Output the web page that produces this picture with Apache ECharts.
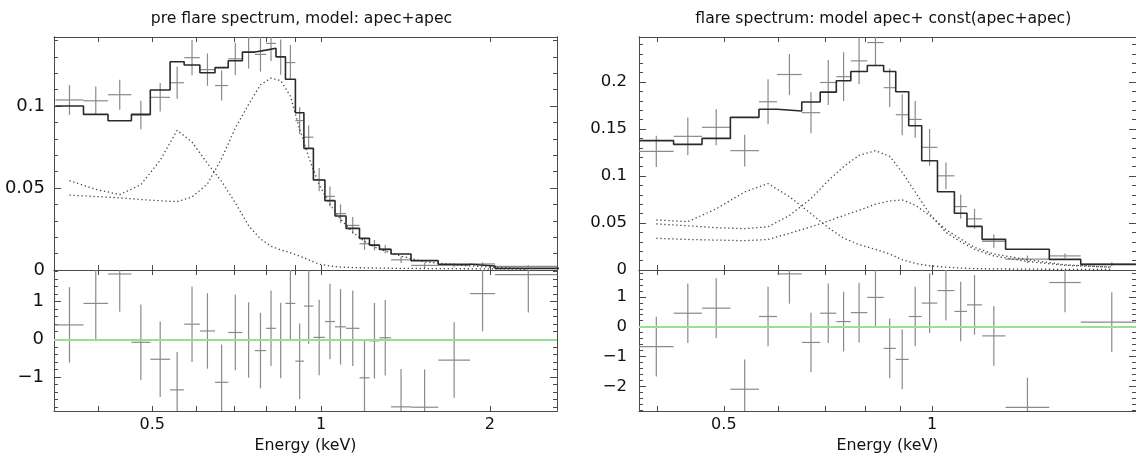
<!DOCTYPE html>
<html><head><meta charset="utf-8">
<script src="https://cdn.jsdelivr.net/npm/echarts@6/dist/echarts.min.js"></script>
<style>html,body{margin:0;padding:0;background:#fff}#c{width:1136px;height:457px}</style>
</head><body><div id="c"></div>
<script>
// ===== Left panel: pre flare spectrum (model apec+apec) =====
const preEdges = [0.336,0.377,0.417,0.459,0.496,0.538,0.570,0.608,0.647,0.683,0.724,0.762,0.798,0.831,0.864,0.900,0.932,0.969,1.016,1.059,1.108,1.171,1.220,1.271,1.333,1.447,1.618,1.844,2.043,2.685];
const preData  = [0.1037,0.1032,0.1069,0.0945,0.1053,0.1142,0.1295,0.1222,0.1125,0.1288,0.1327,0.1315,0.1382,0.1298,0.1265,0.0911,0.0810,0.0551,0.0449,0.0344,0.0272,0.0160,0.0151,0.0127,0.0062,0.0028,0.0028,0.0037,0.0022];
const preErr   = [0.0091,0.0087,0.0091,0.0087,0.0087,0.0097,0.0107,0.0098,0.0091,0.0098,0.0098,0.0105,0.0107,0.0107,0.0107,0.0081,0.0071,0.0071,0.0061,0.0056,0.0051,0.0036,0.0032,0.0025,0.0020,0.0016,0.0013,0.0011,0.0007];
const preModel = [0.1000,0.0949,0.0910,0.0949,0.1098,0.1270,0.1250,0.1203,0.1234,0.1276,0.1329,0.1341,0.1352,0.1301,0.1163,0.0959,0.0742,0.0549,0.0423,0.0329,0.0254,0.0193,0.0152,0.0126,0.0098,0.0057,0.0035,0.0024,0.0010];
const preCompCool = [0.0545,0.0492,0.0460,0.0520,0.0670,0.0852,0.0780,0.0650,0.0540,0.0410,0.0270,0.0190,0.0145,0.0122,0.0105,0.0085,0.0062,0.0035,0.0025,0.0018,0.0015,0.0013,0.0012,0.0011,0.0010,0.0009,0.0008,0.0007,0.0006];
const preCompHot  = [0.0457,0.0448,0.0440,0.0430,0.0422,0.0417,0.0445,0.0525,0.0680,0.0865,0.1010,0.1130,0.1170,0.1155,0.1060,0.0860,0.0690,0.0520,0.0400,0.0310,0.0230,0.0175,0.0140,0.0115,0.0085,0.0050,0.0032,0.0020,0.0008];
const preResid = [0.38,0.95,1.73,-0.08,-0.53,-1.34,0.40,0.22,-1.14,0.18,-0.02,-0.30,0.29,-0.03,0.95,-0.58,0.88,0.05,0.47,0.33,0.29,-1.02,-0.04,0.04,-1.79,-1.80,-0.55,1.21,1.71];

// ===== Right panel: flare spectrum (model apec + const(apec+apec)) =====
const flareEdges = [0.377,0.423,0.465,0.511,0.562,0.597,0.648,0.689,0.727,0.763,0.806,0.851,0.886,0.925,0.966,1.018,1.077,1.123,1.181,1.277,1.477,1.640,2.016];
const flareData  = [0.1262,0.1422,0.1518,0.1270,0.1790,0.2080,0.1674,0.1995,0.2057,0.2225,0.2420,0.1940,0.1652,0.1602,0.1305,0.1002,0.0675,0.0544,0.0305,0.0115,0.0150,0.0063];
const flareErr   = [0.0167,0.0200,0.0191,0.0168,0.0240,0.0218,0.0218,0.0240,0.0260,0.0250,0.0250,0.0205,0.0218,0.0195,0.0195,0.0142,0.0128,0.0106,0.0072,0.0040,0.0025,0.0020];
const flareModel = [0.1376,0.1337,0.1400,0.1624,0.1711,0.1691,0.1787,0.1892,0.2014,0.2112,0.2176,0.2112,0.1897,0.1535,0.1163,0.0833,0.0603,0.0464,0.0326,0.0220,0.0113,0.0060];
const flareCompA = [0.0532,0.0515,0.0650,0.0830,0.0920,0.0780,0.0600,0.0450,0.0340,0.0270,0.0220,0.0170,0.0110,0.0070,0.0045,0.0030,0.0020,0.0015,0.0012,0.0009,0.0007,0.0005];
const flareCompB = [0.0490,0.0470,0.0450,0.0440,0.0460,0.0580,0.0760,0.0950,0.1100,0.1220,0.1270,0.1210,0.1040,0.0830,0.0600,0.0400,0.0300,0.0220,0.0150,0.0090,0.0050,0.0030];
const flareCompC = [0.0337,0.0325,0.0318,0.0312,0.0325,0.0390,0.0460,0.0520,0.0580,0.0635,0.0700,0.0735,0.0745,0.0690,0.0580,0.0430,0.0330,0.0240,0.0170,0.0110,0.0055,0.0030];
const flareResid = [-0.67,0.45,0.62,-2.10,0.34,1.77,-0.53,0.45,0.17,0.47,0.98,-0.73,-1.10,0.34,0.79,1.21,0.51,0.73,-0.31,-2.71,1.48,0.15];

// ===== Tick labels =====
const xTickValues  = [0.4,0.5,0.6,0.7,0.8,0.9,1,2];
const xLabelValues = [0.5,1,2];
const preYLabels   = [0,0.05,0.1];
const flareYLabels = [0,0.05,0.1,0.15,0.2];
const preResLabels = [-1,0,1];
const flareResLabels = [-2,-1,0,1];

const FONT = 'DejaVu Sans, sans-serif';
const FRAME = '#4a4a4a';
const CROSS = '#8a8a8a';
const DOTS = '#444';

function fmt(v){ return String(parseFloat((+v).toPrecision(6))).replace('-', '\u2212'); }
function minorVals(min, max, step){
  const out=[]; for(let k=Math.ceil(min/step-1e-9); k*step<=max+1e-9; k++) out.push(+(k*step).toFixed(6)); return out;
}

const grids = [
  {left:54, top:37, width:503, height:233},
  {left:54, top:270, width:503, height:141},
  {left:639, top:37, width:498, height:233},
  {left:639, top:270, width:498, height:141}
];
const panels = [
  {xmin:0.334, xmax:2.635, ymin:0, ymax:0.1421, major:preYLabels, step:0.01, xLab:false, yFont:18, yMargin:9},
  {xmin:0.334, xmax:2.635, ymin:-1.90, ymax:1.835, major:preResLabels, step:0.2, xLab:true, yFont:18, yMargin:10},
  {xmin:0.377, xmax:1.971, ymin:0, ymax:0.2479, major:flareYLabels, step:0.01, xLab:false, yFont:16.5, yMargin:12},
  {xmin:0.377, xmax:1.971, ymin:-2.83, ymax:1.90, major:flareResLabels, step:0.2, xLab:true, yFont:16.5, yMargin:12}
];

const xAxis=[], yAxis=[];
panels.forEach((p,g)=>{
  ['bottom','top'].forEach(pos=>{
    const lab = pos==='bottom' && p.xLab;
    xAxis.push({
      type:'log', logBase:10, gridIndex:g, position:pos, min:p.xmin, max:p.xmax,
      axisLine:{show:true, onZero:false, lineStyle:{color:FRAME, width:1}},
      axisTick:{show:true, inside:true, length:5, customValues:xTickValues, lineStyle:{color:FRAME, width:1}},
      axisLabel:{show:lab, customValues:xLabelValues, formatter:fmt, color:'#111', fontSize:16, fontFamily:FONT, margin:6},
      splitLine:{show:false}, minorTick:{show:false},
      name: lab ? 'Energy (keV)' : '', nameLocation:'middle', nameGap:27,
      nameTextStyle:{color:'#111', fontSize:15.8, fontFamily:FONT, verticalAlign:'top'}
    });
  });
  [['left',true],['left',false],['right',true],['right',false]].forEach(([pos,maj])=>{
    yAxis.push({
      type:'value', gridIndex:g, position:pos, min:p.ymin, max:p.ymax,
      axisLine:{show:true, onZero:false, lineStyle:{color:FRAME, width:1}},
      axisTick:{show:true, inside:true, length: maj?7:4, customValues: maj ? p.major : minorVals(p.ymin,p.ymax,p.step), lineStyle:{color:FRAME, width:1}},
      axisLabel:{show: pos==='left' && maj, customValues:p.major, formatter:fmt, color:'#111', fontSize:p.yFont, fontFamily:FONT, margin:p.yMargin},
      splitLine:{show:false}
    });
  });
});

function centers(edges){ return edges.slice(0,-1).map((e,i)=>Math.sqrt(e*edges[i+1])); }

function stepSeries(g, edges, model){
  const d = model.map((m,i)=>[edges[i], m]);
  d.push([edges[edges.length-1], model[model.length-1]]);
  return {type:'line', xAxisIndex:2*g, yAxisIndex:4*g, data:d, step:'end', showSymbol:false, symbol:'none',
    lineStyle:{color:'#2a2a2a', width:1.6}, clip:true, silent:true, z:4};
}
function compSeries(g, edges, comp){
  const c = centers(edges);
  return {type:'line', xAxisIndex:2*g, yAxisIndex:4*g, data:comp.map((v,i)=>[c[i], v]), showSymbol:false, symbol:'none',
    lineStyle:{color:DOTS, width:1.3, type:[1.3,2.7]}, clip:true, silent:true, z:3};
}
function crossSeries(g, edges, vals, errs, extra){
  const data = vals.map((v,i)=>[edges[i], edges[i+1], v, errs ? errs[i] : 1]);
  const s = {type:'custom', xAxisIndex:2*g, yAxisIndex:4*g, clip:true, silent:true, z:2, data,
    encode:{x:[0,1], y:2},
    renderItem(params, api){
      const lo=api.value(0), hi=api.value(1), v=api.value(2), e=api.value(3);
      const c=Math.sqrt(lo*hi);
      const a=api.coord([lo,v]), b=api.coord([hi,v]), t=api.coord([c,v+e]), u=api.coord([c,v-e]);
      const st={stroke:CROSS, lineWidth:1.2};
      return {type:'group', children:[
        {type:'line', shape:{x1:a[0],y1:a[1],x2:b[0],y2:b[1]}, style:st},
        {type:'line', shape:{x1:t[0],y1:t[1],x2:u[0],y2:u[1]}, style:st}
      ]};
    }};
  return Object.assign(s, extra||{});
}
const zeroLine = {markLine:{silent:true, symbol:'none', label:{show:false}, animation:false,
  lineStyle:{color:'#93e293', width:2, type:'solid'}, data:[{yAxis:0}]}};

const series = [
  crossSeries(0, preEdges, preData, preErr),
  compSeries(0, preEdges, preCompCool),
  compSeries(0, preEdges, preCompHot),
  stepSeries(0, preEdges, preModel),
  crossSeries(1, preEdges, preResid, null, zeroLine),
  crossSeries(2, flareEdges, flareData, flareErr),
  compSeries(2, flareEdges, flareCompA),
  compSeries(2, flareEdges, flareCompB),
  compSeries(2, flareEdges, flareCompC),
  stepSeries(2, flareEdges, flareModel),
  crossSeries(3, flareEdges, flareResid, null, zeroLine)
];

const chart = echarts.init(document.getElementById('c'), null, {renderer:'canvas'});
chart.setOption({
  animation:false,
  backgroundColor:'#fff',
  textStyle:{fontFamily:FONT},
  grid: grids,
  xAxis, yAxis, series,
  graphic:[
    {type:'text', left:null, x:301.5, y:19, style:{text:'pre flare spectrum, model: apec+apec', fill:'#111', font:'15.6px DejaVu Sans', textAlign:'center', textVerticalAlign:'middle'}},
    {type:'text', x:883.3, y:19, style:{text:'flare spectrum: model apec+ const(apec+apec)', fill:'#111', font:'15.6px DejaVu Sans', textAlign:'center', textVerticalAlign:'middle'}}
  ]
});
</script></body></html>
